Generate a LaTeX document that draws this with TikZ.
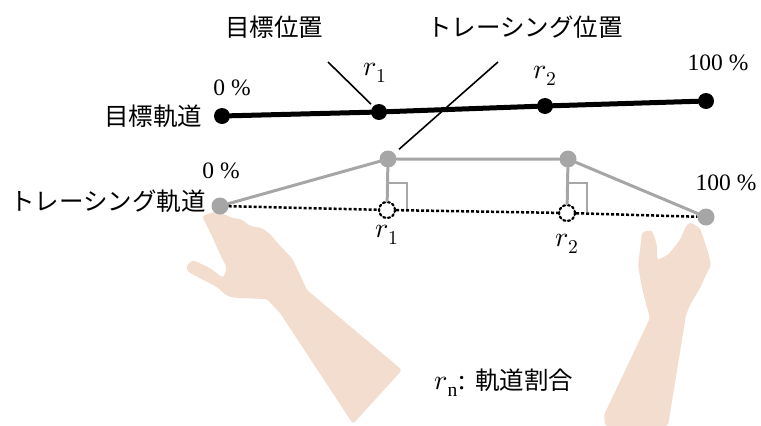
\documentclass[tikz,border=0pt]{standalone}
\usepackage{fontspec}
\usepackage{unicode-math}
\setmainfont{Liberation Serif}
\setmathfont{Latin Modern Math}
\newfontfamily\jpfont{Noto Sans CJK JP}
\usetikzlibrary{calc}

\definecolor{skin}{RGB}{242,221,206}
\definecolor{trcgray}{RGB}{166,166,166}

\begin{document}
\begin{tikzpicture}[x=1pt, y=-1pt, line cap=round,
    font=\fontsize{23.5}{27}\selectfont,
    jp/.style={font=\jpfont\fontsize{24.5}{28}\selectfont},
    rlab/.style={font=\fontsize{28}{32}\selectfont},
    tgtdot/.style={circle, fill=black, inner sep=0pt, minimum size=16pt},
    trcdot/.style={circle, fill=trcgray, inner sep=0pt, minimum size=17pt},
    projdot/.style={circle, draw, line width=2.2pt, dash pattern=on 2.2pt off 2.6pt,
                    inner sep=0pt, minimum size=16pt},
    trcline/.style={draw=trcgray, line width=3pt},
    leader/.style={draw, line width=1.6pt, line cap=butt}]

  \useasboundingbox (0,0) rectangle (761,426);

  % arms (behind everything)
  \fill[skin, rounded corners=3pt]
    (202,216) -- (213,212) -- (224,214) -- (232,218) -- (241,219)
    -- (250,226) -- (262,228) -- (270,234) -- (282,248) -- (292,258)
    -- (300,275) -- (307,290) -- (402,370) -- (353,424) -- (280,313)
    -- (267,299) -- (237,298) -- (227,296) -- (217,287) -- (188,272)
    -- (186,266) -- (193,260) -- (210,268) -- (223,278) -- (227,268)
    -- (218,250) -- (212,236) -- cycle;
  \fill[skin, rounded corners=3pt]
    (690,222) -- (700,228) -- (704,240) -- (708,252) -- (711,265)
    -- (706,275) -- (700,288) -- (690,305) -- (686,315) -- (668,426)
    -- (605,426) -- (604,415) -- (650,318) -- (645,300) -- (641,283)
    -- (638,265) -- (640,250) -- (642,232) -- (652,230) -- (657,245)
    -- (657,260) -- (668,255) -- (680,240) -- (686,226) -- cycle;

  % target trajectory
  \node[tgtdot] (T0) at (222,116) {};
  \node[tgtdot] (T1) at (379,112) {};
  \node[tgtdot] (T2) at (545,106) {};
  \node[tgtdot] (T3) at (706,101) {};
  \draw[line width=5pt] (T0) -- (T1) -- (T2) -- (T3);

  % tracing trajectory
  \node[trcdot]  (S0) at (220,206) {};
  \node[trcdot]  (S1) at (388,159) {};
  \node[trcdot]  (S2) at (568,159) {};
  \node[trcdot]  (S3) at (706,217) {};
  \node[projdot] (P1) at (387,210) {};
  \node[projdot] (P2) at (567,213) {};
  \draw[trcline] (S0) -- (S1) -- (S2) -- (S3);
  \draw[line width=2.5pt, line cap=butt, dash pattern=on 3pt off 2pt]
    (S0) -- (P1) -- (P2) -- (S3);

  % perpendiculars + right-angle marks
  \draw[trcline] (S1) -- (P1);
  \draw[trcline] (S2) -- (P2);
  \draw[trcline, line width=2.5pt, line cap=butt]
    ($(P1)+(0,-27)$) -| ($(P1)+(20,-1)$);
  \draw[trcline, line width=2.5pt, line cap=butt]
    ($(P2)+(0,-30)$) -| ($(P2)+(20,-1)$);

  % leaders
  \coordinate (tgtlead) at (328,62);
  \coordinate (trclead) at (498,62);
  \draw[leader, shorten >=3pt] (tgtlead) -- (T1);
  \draw[leader, shorten >=6pt] (trclead) -- (S1);

  % labels
  \node[jp] (tgtpos) at (274,27)  {目標位置};
  \node[jp] (trcpos) at (525,27)  {トレーシング位置};
  \node[jp] (tgtlab) at (153,116) {目標軌道};
  \node[jp] (trclab) at (108,201) {トレーシング軌道};

  \node (tgt0)   at (232,88)  {0 \%};
  \node (tgt100) at (718,63)  {100 \%};
  \node (trc0)   at (221,171) {0 \%};
  \node (trc100) at (726,183) {100 \%};
  \node[rlab] (tgtr1) at (375,73)  {$r_1$};
  \node[rlab] (tgtr2) at (545,76)  {$r_2$};
  \node[rlab] (trcr1) at (387,235) {$r_1$};
  \node[rlab] (trcr2) at (567,244) {$r_2$};

  \node[rlab] (legend) at (504,383)
    {$r_\mathrm{n}$: {\jpfont\fontsize{24.5}{28}\selectfont 軌道割合}};

\end{tikzpicture}
\end{document}
